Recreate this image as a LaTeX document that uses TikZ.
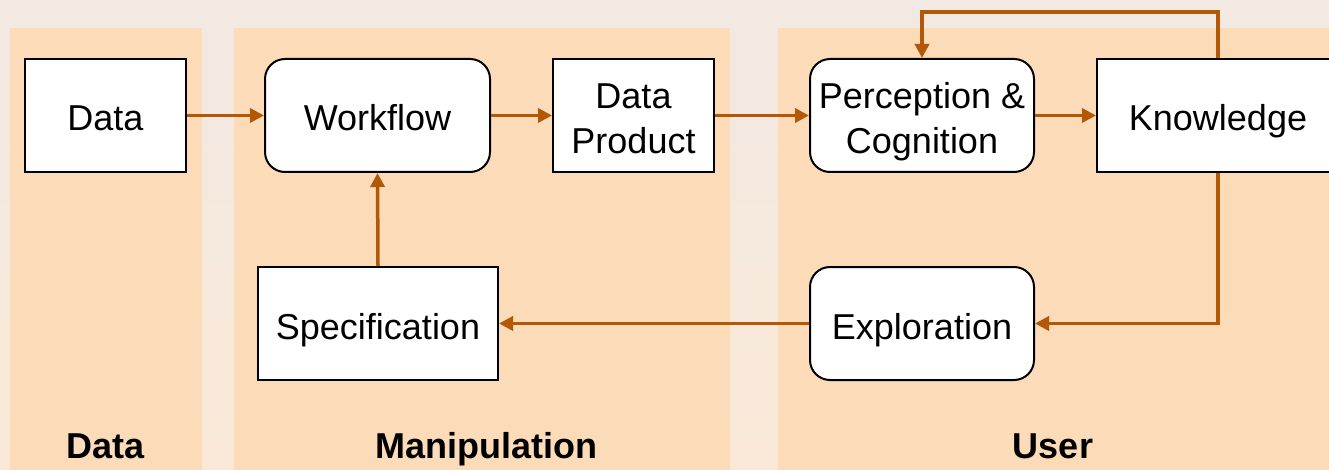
\documentclass[tikz,border=0pt]{standalone}
\usepackage{fontspec}
\setmainfont{Liberation Sans}
\usetikzlibrary{arrows.meta}
\definecolor{bgtop}{HTML}{F2E9E3}
\definecolor{bgbot}{HTML}{FAE9D8}
\definecolor{lane}{HTML}{FCDBB9}
\definecolor{flowc}{HTML}{B35806}
\tikzset{
  box/.style={draw=black, line width=2pt, fill=white, minimum height=113pt,
    align=center, inner sep=0pt, text height=31pt, text depth=0pt,
    font=\fontsize{36}{45}\selectfont},
  twoline/.style={text height=76pt},
  roundbox/.style={box, rounded corners=20pt},
  lanelabel/.style={font=\fontsize{36}{44}\selectfont\bfseries, inner sep=0pt, anchor=base},
  flow/.style={draw=flowc, line width=3.5pt,
    -{Triangle[length=14pt,width=14pt]}},
}
\begin{document}
\begin{tikzpicture}[x=1pt,y=-1pt]
  \useasboundingbox (0,0) rectangle (1329,470);
  \clip (0,0) rectangle (1329,470);
  % background and swim lanes
  \shade[top color=bgtop, bottom color=bgbot] (0,0) rectangle (1329,470);
  \fill[lane] (10,28) rectangle (202,470);
  \fill[lane] (234,28) rectangle (730,470);
  \fill[lane] (778,28) rectangle (1340,470);

  % process boxes
  \node[box, minimum width=161pt] (data) at (105.5,115.5) {Data};
  \node[roundbox, minimum width=225pt] (work) at (377.5,115.5) {Workflow};
  \node[box, twoline, minimum width=161pt] (prod) at (633.5,115.5) {Data\\Product};
  \node[roundbox, twoline, minimum width=224pt] (perc) at (922,115.5) {Perception \&\\Cognition};
  \node[box, minimum width=242pt] (know) at (1218,115.5) {Knowledge};
  \node[box, minimum width=240pt] (spec) at (378,323.5) {Specification};
  \node[roundbox, minimum width=224pt] (expl) at (922,323.5) {Exploration};

  % lane titles
  \node[lanelabel] (ldata) at (106,458) {Data};
  \node[lanelabel] (lmani) at (486,458) {Manipulation};
  \node[lanelabel] (luser) at (1053,458) {User};

  % connectors
  \coordinate (loop) at (0,12);
  \draw[flow] (data) -- (work);
  \draw[flow] (work) -- (prod);
  \draw[flow] (prod) -- (perc);
  \draw[flow] (perc) -- (know);
  \draw[flow] (know.north) -- (know.north |- loop) -| (perc.north);
  \draw[flow] (know.south) |- (expl.east);
  \draw[flow] (expl) -- (spec);
  \draw[flow] (spec.north) -- (work.south);
\end{tikzpicture}
\end{document}
